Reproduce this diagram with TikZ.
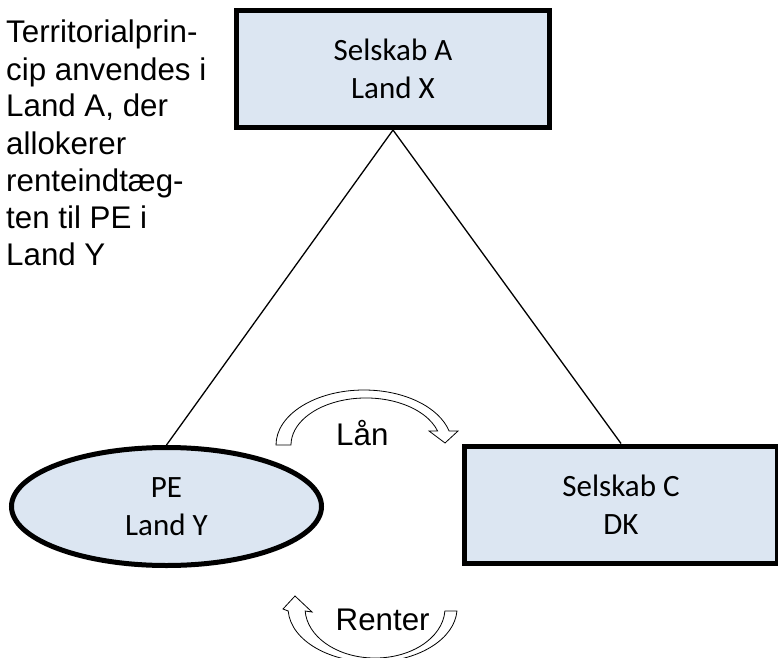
\documentclass[tikz,border=0pt]{standalone}
\usepackage{fontspec}
\setmainfont{Liberation Sans}
\newfontfamily\boxfont{Carlito}
\usetikzlibrary{shapes.geometric}
\definecolor{boxfill}{RGB}{220,230,242}

\tikzset{
  entity/.style={draw=black, line width=5pt, fill=boxfill, align=center,
    inner sep=0pt, font=\boxfont\fontsize{31}{38.5}\selectfont},
  company/.style={entity, rectangle, minimum width=313pt, minimum height=117pt},
  branch/.style={entity, ellipse, minimum width=310pt, minimum height=118pt},
  link/.style={line width=1.3pt},
  flowarrow/.style={draw=black, fill=white, line width=0.8pt, line join=miter},
  note/.style={inner sep=0pt, align=left, font=\fontsize{31.3}{37}\selectfont},
  flowlabel/.style={inner sep=0pt, font=\fontsize{31.3}{37}\selectfont}
}

\begin{document}
\begin{tikzpicture}[x=1pt, y=1pt]
  \useasboundingbox (0,0) rectangle (778,657);

  % entities
  \node[company] (A)  at (393,588)   {Selskab A\\Land X};
  \node[company] (C)  at (621,152.5) {Selskab C\\DK};
  \node[branch]  (PE) at (166.5,150.5) {PE\\Land Y};

  % ownership lines
  \draw[link] (A.south) -- (PE.north);
  \draw[link] (A.south) -- (C.north);

  % explanatory note (base anchor sits on the last line)
  \node[note, anchor=base west] (note) at (6,392)
    {Territorialprin-\\cip anvendes i\\Land A, der\\allokerer\\renteindtæg-\\ten til PE i\\Land Y};

  % loan: curved arrow from PE over to C
  \draw[flowarrow] (276,212)
    arc[start angle=180, end angle=14.75, x radius=88, y radius=55]
    -- (458,226) -- (445,214) -- (429,226) -- (437.6,226)
    arc[start angle=17.3, end angle=180, x radius=75, y radius=47]
    -- cycle;
  \node[flowlabel, anchor=base west] (loan) at (336,212) {Lån};

  % interest: curved arrow from C back under to PE
  \draw[flowarrow] (288.2,46)
    arc[start angle=183.2, end angle=356.8, x radius=84.5, y radius=54]
    -- (444.9,46)
    arc[start angle=356.6, end angle=183.4, x radius=70, y radius=50]
    -- (312,45) -- (295,61) -- (283,48) -- cycle;
  \node[flowlabel, anchor=base west] (interest) at (335.5,27) {Renter};
\end{tikzpicture}
\end{document}
